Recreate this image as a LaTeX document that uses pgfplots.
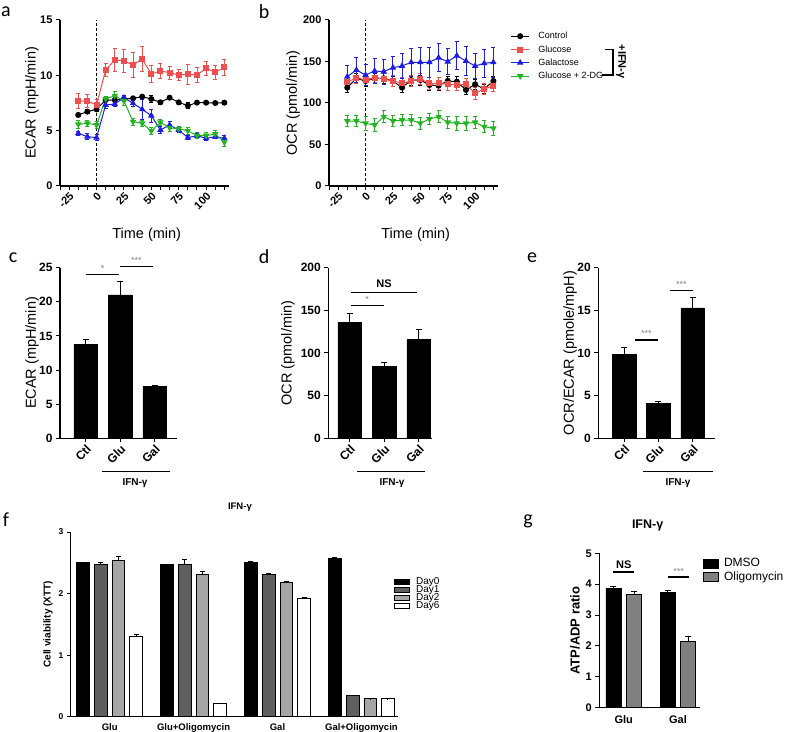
\documentclass[border=0pt]{standalone}
\usepackage{fontspec}
\setmainfont{Liberation Sans}
\newfontfamily\calfont{Carlito}
\usepackage{pgfplots}
\usepackage{pgfplotstable}
\pgfplotsset{compat=1.18}

\definecolor{cred}{RGB}{238,80,80}
\definecolor{cblue}{RGB}{30,30,225}
\definecolor{cgreen}{RGB}{35,180,35}
\definecolor{dgray}{RGB}{95,95,95}
\definecolor{lgray}{RGB}{165,165,165}
\definecolor{ogray}{RGB}{128,128,128}

% panel a: ECAR time course (mean, sem)
\pgfplotstableread{
t      ctl  ectl  glu   eglu  gal  egal  dg   edg
-16.67 6.42 0.15  7.68  0.65  4.76 0.20  5.57 0.35
-8.33  6.72 0.20  7.68  0.60  4.46 0.25  5.66 0.30
0      6.93 0.20  7.32  0.50  4.37 0.25  5.51 0.35
8.33   7.77 0.15  10.48 0.60  7.32 0.30  7.86 0.20
16.67  7.77 0.20  11.39 1.00  7.41 0.20  8.16 0.35
25     7.86 0.15  11.30 1.00  7.98 0.20  7.68 0.40
33.33  7.92 0.15  10.93 1.10  7.47 0.30  5.81 0.30
41.67  8.07 0.15  11.48 1.10  6.93 0.90  5.66 0.30
50     7.86 0.30  10.12 0.80  6.36 0.60  4.97 0.35
58.33  7.56 0.15  10.39 0.70  5.06 0.30  5.75 0.30
66.67  7.98 0.10  10.24 0.60  5.51 0.30  5.27 0.30
75     7.56 0.15  10.03 0.50  5.06 0.20  5.15 0.25
83.33  7.26 0.25  10.09 0.90  4.37 0.20  5.00 0.30
91.67  7.53 0.15  10.03 0.70  4.55 0.20  4.55 0.25
100    7.53 0.10  10.63 0.60  4.31 0.20  4.55 0.25
108.33 7.50 0.10  10.27 0.60  4.46 0.20  4.70 0.30
116.67 7.53 0.10  10.72 0.70  4.31 0.25  3.95 0.40
}\tabA

% panel b: OCR time course
\pgfplotstableread{
t      ctl   ectl glu   eglu gal   egal dg   edg
-16.67 118.5 6    124.9 7    131.7 14   78.3 7
-8.33  129.7 6    130.5 7    139.8 15   78.3 7
0      126.5 6    127.7 7    133.7 13   75.5 8
8.33   129.7 6    130.5 6    138.6 15   73.5 8
16.67  129.7 6    128.9 7    137.8 15   83.5 7
25     126.5 6    126.5 7    142.6 14   78.3 7
33.33  118.5 6    123.7 7    144.6 15   79.5 7
41.67  127.7 6    126.5 7    149.0 17   79.5 7
50     127.7 6    128.9 7    149.0 18   75.5 7
58.33  121.7 6    123.7 7    149.0 18   80.7 7
66.67  120.9 6    123.7 7    154.6 17   83.5 7
75     126.5 6    122.5 7    149.8 16   76.7 7
83.33  125.7 6    121.7 7    157.0 17   75.5 8
91.67  115.7 6    122.5 7    150.6 18   75.5 8
100    122.5 6    111.6 7    144.6 15   76.7 7
108.33 116.9 6    116.9 7    147.8 17   71.5 7
116.67 126.5 6    120.9 7    149.0 18   69.5 8
}\tabB

% panels c, d, e: x=0 Ctl, 1 Glu, 2 Gal
\pgfplotstableread{
x y e
0 13.8 0.75
1 21.0 2.05
2 7.6 0.2
}\tabC
\pgfplotstableread{
x y e
0 136 10.5
1 84 4.7
2 116 11
}\tabD
\pgfplotstableread{
x y e
0 9.88 0.72
1 4.12 0.18
2 15.3 1.2
}\tabE

% panel f: x=0 Glu, 1 Glu+Oligo, 2 Gal, 3 Gal+Oligo
\pgfplotstableread{
x d0   e0   d1   e1   d2   e2    d6   e6
0 2.50 0.01 2.47 0.04 2.54 0.06  1.31 0.03
1 2.47 0.01 2.48 0.08 2.31 0.05  0.21 0.005
2 2.51 0.01 2.31 0.01 2.18 0.01  1.92 0.01
3 2.57 0.02 0.34 0.01 0.29 0.005 0.29 0.005
}\tabF

% panel g: x=0 Glu, 1 Gal
\pgfplotstableread{
x dm   edm  ol   eol
0 3.87 0.04 3.68 0.08
1 3.73 0.07 2.16 0.15
}\tabG

\pgfplotsset{
  base/.style={scale only axis, axis lines=left, axis line style={line width=1.2pt,-},
    tick align=outside, major tick length=4pt, minor tick length=4pt,
    tick style={black, line width=1pt},
    /pgf/number format/assume math mode=true,
    tick label style={font=\bfseries\fontsize{11}{11}\selectfont},
    label style={font=\fontsize{14.5}{15}\selectfont},
    clip=false, ymin=0},
  timeaxis/.style={base, width=169pt, height=166pt, xmin=-33.33, xmax=120.9,
    xtick={-25,0,25,50,75,100},
    minor xtick={-33.33,-16.67,-8.33,8.33,16.67,33.33,41.67,58.33,66.67,83.33,91.67,108.33,116.67},
    x tick label style={rotate=45, anchor=north east, inner sep=1pt},
    xlabel={Time (min)},
    xlabel style={at={(axis description cs:0.513,-0.295)}, anchor=center}},
  baraxis/.style={base, height=170.6pt, xtick={0,1,2}, xticklabels={Ctl,Glu,Gal},
    x tick label style={rotate=45, anchor=north east, inner sep=1pt,
      font=\bfseries\fontsize{12}{12}\selectfont},
    y tick label style={font=\bfseries\fontsize{12}{12}\selectfont}},
  ebar/.style={error bars/.cd, y dir=both, y explicit,
    error bar style={line width=0.9pt},
    error mark options={rotate=90, mark size=2pt, line width=0.9pt}},
  pbar/.style={error bars/.cd, y dir=plus, y explicit,
    error bar style={line width=1pt, black},
    error mark options={rotate=90, mark size=#1, line width=1pt, black}},
}

\begin{document}
\begin{tikzpicture}
\path[use as bounding box] (0,0) rectangle (791pt,731pt);

% ---------- a ----------
\begin{axis}[timeaxis, at={(60pt,545pt)}, anchor=south west,
  ymax=15, ytick={0,5,10,15},
  ylabel={ECAR (mpH/min)},
  ylabel style={at={(axis description cs:-0.166,0.5)}, anchor=center}]
\draw[densely dashed, line width=0.5pt] (axis cs:0,0) -- (axis cs:0,15);
\addplot[black, line width=1pt, mark=*, mark size=2.5pt, ebar] table[x=t,y=ctl,y error=ectl] \tabA;
\addplot[cred, line width=1pt, mark=square*, mark size=2.5pt, ebar] table[x=t,y=glu,y error=eglu] \tabA;
\addplot[cblue, line width=1pt, mark=triangle*, mark size=2.8pt, ebar] table[x=t,y=gal,y error=egal] \tabA;
\addplot[cgreen, line width=1pt, mark=triangle*, mark size=2.8pt, mark options={rotate=180}, ebar] table[x=t,y=dg,y error=edg] \tabA;
\end{axis}

% ---------- b ----------
\begin{axis}[timeaxis, at={(329pt,545pt)}, anchor=south west,
  ymax=200, ytick={0,50,100,150,200},
  ylabel={OCR (pmol/min)},
  ylabel style={at={(axis description cs:-0.213,0.5)}, anchor=center},
  legend style={at={(1.075,0.9307)}, anchor=north west, draw=none, fill=none,
    inner sep=0pt, row sep=4.3pt, column sep=9pt,
    font=\fontsize{9}{9}\selectfont,
    nodes={inner sep=0pt, text height=7pt, text depth=2pt}},
  legend cell align=left,
  legend image code/.code={\draw[mark repeat=2, mark phase=2, #1] plot coordinates {(0pt,0pt) (8.8pt,0pt) (17.6pt,0pt)};}]
\draw[densely dashed, line width=0.5pt] (axis cs:0,0) -- (axis cs:0,200);
\addplot[black, line width=1pt, mark=*, mark size=2.5pt, ebar] table[x=t,y=ctl,y error=ectl] \tabB;
\addplot[cred, line width=1pt, mark=square*, mark size=2.5pt, ebar] table[x=t,y=glu,y error=eglu] \tabB;
\addplot[cblue, line width=1pt, mark=triangle*, mark size=2.8pt, ebar] table[x=t,y=gal,y error=egal] \tabB;
\addplot[cgreen, line width=1pt, mark=triangle*, mark size=2.8pt, mark options={rotate=180}, ebar] table[x=t,y=dg,y error=edg] \tabB;
\legend{Control, Glucose, Galactose, Glucose + 2-DG}
\end{axis}

% bracket for IFN-g
\draw[line width=1.1pt] (605pt,681.7pt) -- (613pt,681.7pt) -- (613pt,656pt) -- (601.7pt,656pt);
\node[rotate=-90, font=\bfseries\fontsize{11}{11}\selectfont] at (621pt,669.3pt) {+IFN-γ};

% ---------- c ----------
\begin{axis}[baraxis, at={(60pt,292.7pt)}, anchor=south west, width=117pt,
  xmin=-0.745, xmax=2.65, ymax=25, ytick={0,5,...,25},
  ylabel={ECAR (mpH/min)},
  ylabel style={at={(axis description cs:-0.239,0.5)}, anchor=center}]
\addplot[ybar, bar width=23.5pt, fill=black, draw=black, pbar=3pt] table[x=x,y=y,y error=e] \tabC;
\draw[line width=0.8pt] (axis cs:0.01,24.0) -- (axis cs:0.97,24.0);
\node[gray, font=\fontsize{9}{9}\selectfont] at (axis cs:0.49,24.9) {*};
\draw[line width=1.5pt] (axis cs:0.99,25.15) -- (axis cs:1.94,25.15);
\node[gray, font=\fontsize{9}{9}\selectfont] at (axis cs:1.47,26.1) {***};
\end{axis}
\draw[line width=0.9pt] (102pt,259.3pt) -- (170pt,259.3pt);
\node[font=\bfseries\fontsize{10}{10}\selectfont] at (135pt,248pt) {IFN-γ};

% ---------- d ----------
\begin{axis}[baraxis, at={(328.3pt,292.7pt)}, anchor=south west, width=103.7pt,
  xmin=-0.62, xmax=2.39, ymax=200, ytick={0,50,...,200},
  ylabel={OCR (pmol/min)},
  ylabel style={at={(axis description cs:-0.389,0.5)}, anchor=center}]
\addplot[ybar, bar width=23.5pt, fill=black, draw=black, pbar=3pt] table[x=x,y=y,y error=e] \tabD;
\draw[line width=1.5pt] (axis cs:0.03,170.7) -- (axis cs:1.96,170.7);
\node[font=\bfseries\fontsize{11}{11}\selectfont] at (axis cs:1.0,181) {NS};
\draw[line width=1.5pt] (axis cs:0.03,155.4) -- (axis cs:0.99,155.4);
\node[gray, font=\fontsize{9}{9}\selectfont] at (axis cs:0.51,163) {*};
\end{axis}
\draw[line width=0.9pt] (357pt,259.3pt) -- (425pt,259.3pt);
\node[font=\bfseries\fontsize{10}{10}\selectfont] at (392pt,248pt) {IFN-γ};

% ---------- e ----------
\begin{axis}[baraxis, at={(598.3pt,292.7pt)}, anchor=south west, width=116.7pt,
  xmin=-0.75, xmax=2.65, ymax=20, ytick={0,5,...,20},
  ylabel={OCR/ECAR (pmole/mpH)},
  ylabel style={at={(axis description cs:-0.2425,0.5)}, anchor=center}]
\addplot[ybar, bar width=23.5pt, fill=black, draw=black, pbar=3pt] table[x=x,y=y,y error=e] \tabE;
\draw[line width=1.5pt] (axis cs:0.32,11.52) -- (axis cs:0.98,11.52);
\node[gray, font=\fontsize{9}{9}\selectfont] at (axis cs:0.65,12.3) {***};
\draw[line width=1.5pt] (axis cs:1.34,17.3) -- (axis cs:2.0,17.3);
\node[gray, font=\fontsize{9}{9}\selectfont] at (axis cs:1.67,18.1) {***};
\end{axis}
\draw[line width=0.9pt] (643pt,259.3pt) -- (713pt,259.3pt);
\node[font=\bfseries\fontsize{10}{10}\selectfont] at (678pt,248pt) {IFN-γ};

% ---------- f ----------
\begin{axis}[base, at={(70pt,14.3pt)}, anchor=south west, width=328pt, height=184.7pt,
  xmin=-0.473, xmax=3.436, ymax=3, ytick={0,1,2,3},
  xtick={0,1,2,3}, xticklabels={Glu,Glu+Oligomycin,Gal,Gal+Oligomycin},
  xtick style={draw=none}, major tick length=3pt,
  axis line style={line width=0.9pt},
  tick label style={font=\bfseries\fontsize{9.5}{9.5}\selectfont},
  y tick label style={font=\bfseries\fontsize{8.5}{8.5}\selectfont},
  title={IFN-γ}, title style={font=\bfseries\fontsize{9.5}{9.5}\selectfont, at={(axis description cs:0.518,1.103)}, anchor=center},
  ylabel={Cell viability (XTT)},
  ylabel style={font=\bfseries\fontsize{10}{10}\selectfont, at={(axis description cs:-0.067,0.5)}, anchor=center},
  legend style={at={(0.988,0.751)}, anchor=north west, draw=none, fill=none,
    inner sep=0pt, row sep=0.5pt, column sep=6pt,
    font=\fontsize{10}{8}\selectfont,
    nodes={inner sep=0pt, text height=6pt, text depth=1.5pt}},
  legend cell align=left,
  legend image code/.code={\draw[#1, line width=0.8pt] (0pt,-2.6pt) rectangle (15pt,2.6pt);}]
\addplot[ybar, bar width=12.7pt, fill=black, draw=black, line width=0.8pt, pbar=2.5pt] table[x expr=\thisrow{x}-0.3164,y=d0,y error=e0] \tabF;
\addplot[ybar, bar width=12.7pt, fill=dgray, draw=black, line width=0.8pt, pbar=2.5pt] table[x expr=\thisrow{x}-0.1055,y=d1,y error=e1] \tabF;
\addplot[ybar, bar width=12.7pt, fill=lgray, draw=black, line width=0.8pt, pbar=2.5pt] table[x expr=\thisrow{x}+0.1055,y=d2,y error=e2] \tabF;
\addplot[ybar, bar width=12.7pt, fill=white, draw=black, line width=0.8pt, pbar=2.5pt] table[x expr=\thisrow{x}+0.3164,y=d6,y error=e6] \tabF;
\legend{Day0, Day1, Day2, Day6}
\end{axis}

% ---------- g ----------
\begin{axis}[base, at={(599.3pt,23.3pt)}, anchor=south west, width=100.7pt, height=154.4pt,
  xmin=-0.45, xmax=1.405, ymax=5, ytick={0,1,...,5},
  xtick={0,1}, xticklabels={Glu,Gal}, xtick style={draw=none},
  tick label style={font=\bfseries\fontsize{11}{11}\selectfont},
  title={IFN-γ}, title style={font=\bfseries\fontsize{12.5}{12.5}\selectfont, at={(axis description cs:0.48,1.14)}, anchor=center},
  ylabel={ATP/ADP ratio},
  ylabel style={font=\bfseries\fontsize{13}{13}\selectfont, at={(axis description cs:-0.241,0.5)}, anchor=center},
  legend style={at={(1.03,0.970)}, anchor=north west, draw=none, fill=none,
    inner sep=0pt, row sep=2pt, column sep=5pt,
    font=\fontsize{12}{12}\selectfont,
    nodes={inner sep=0pt, text height=8.7pt, text depth=2.5pt}},
  legend cell align=left,
  legend image code/.code={\draw[#1, line width=0.8pt] (0pt,-4.3pt) rectangle (15pt,4.3pt);}]
\addplot[ybar, bar width=15pt, fill=black, draw=black, line width=0.8pt, pbar=3pt] table[x expr=\thisrow{x}-0.1897,y=dm,y error=edm] \tabG;
\addplot[ybar, bar width=15pt, fill=ogray, draw=black, line width=0.8pt, pbar=3pt] table[x expr=\thisrow{x}+0.1897,y=ol,y error=eol] \tabG;
\legend{DMSO, Oligomycin}
\draw[line width=1.5pt] (axis cs:-0.197,4.40) -- (axis cs:0.19,4.40);
\node[font=\bfseries\fontsize{11}{11}\selectfont] at (axis cs:0.0,4.62) {NS};
\draw[line width=1.5pt] (axis cs:0.82,4.23) -- (axis cs:1.2,4.23);
\node[gray, font=\fontsize{9}{9}\selectfont] at (axis cs:1.01,4.42) {***};
\end{axis}

% panel letters
\node[font=\calfont\fontsize{20}{20}\selectfont] at (6pt,719pt) {a};
\node[font=\calfont\fontsize{20}{20}\selectfont] at (264pt,719pt) {b};
\node[font=\calfont\fontsize{20}{20}\selectfont] at (13pt,473pt) {c};
\node[font=\calfont\fontsize{20}{20}\selectfont] at (264pt,474pt) {d};
\node[font=\calfont\fontsize{20}{20}\selectfont] at (532pt,473pt) {e};
\node[font=\calfont\fontsize{20}{20}\selectfont] at (6pt,211pt) {f};
\node[font=\calfont\fontsize{20}{20}\selectfont] at (528pt,210pt) {g};
\end{tikzpicture}
\end{document}
